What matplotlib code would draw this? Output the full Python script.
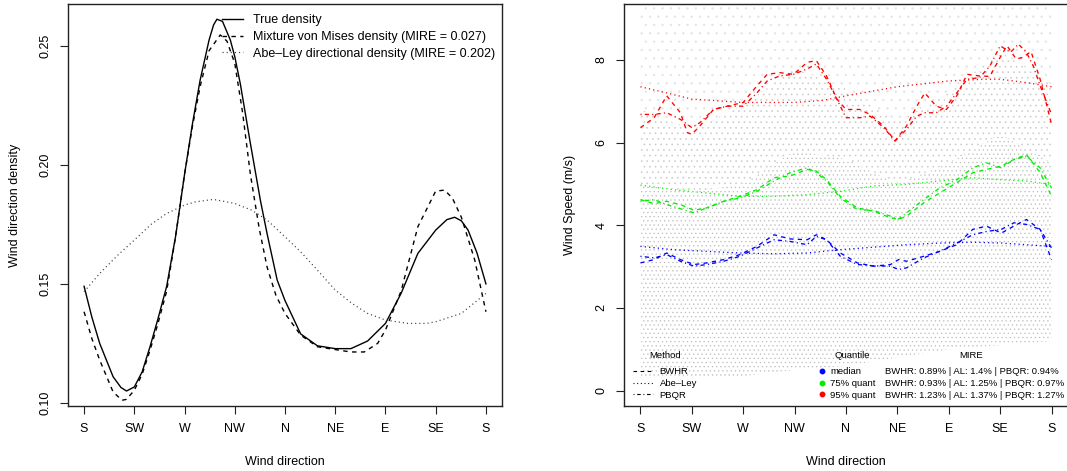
import matplotlib
matplotlib.use("Agg")
import matplotlib.pyplot as plt
from matplotlib.lines import Line2D

plt.rcParams['font.family'] = ['Liberation Sans', 'DejaVu Sans']
plt.rcParams['hatch.linewidth'] = 0.4

# ---------------- data ----------------
tick_dirs = [0, 45, 90, 135, 180, 225, 270, 315, 360]
tick_labels = ["S", "SW", "W", "NW", "N", "NE", "E", "SE", "S"]

# Left panel: densities
true_dir = [0, 7, 14, 26, 33, 38, 45, 52, 59, 66, 74, 82, 90, 97, 104, 112, 116, 119, 124, 131, 135, 140,
            149, 158, 164, 173, 180, 188, 194, 209, 225, 239, 254, 270, 284, 299, 315, 325, 332, 338, 344, 352, 360]
true_den = [0.149, 0.136, 0.125, 0.111, 0.1065, 0.105, 0.1067, 0.113, 0.1235, 0.135, 0.149, 0.17, 0.196, 0.217,
            0.2357, 0.2525, 0.2588, 0.2612, 0.2603, 0.2525, 0.2455, 0.234, 0.209, 0.185, 0.171, 0.1516, 0.143,
            0.135, 0.129, 0.124, 0.1228, 0.1228, 0.126, 0.1334, 0.146, 0.1628, 0.1726, 0.177, 0.178, 0.1765,
            0.1726, 0.163, 0.150]

mvm_dir = [0, 7, 14, 26, 34, 38, 45, 52, 59, 66, 74, 82, 90, 97, 104, 112, 122, 128, 135, 142, 149, 157, 164,
           172, 180, 194, 209, 225, 239, 251, 263, 270, 284, 299, 315, 323, 330, 338, 350, 360]
mvm_den = [0.1383, 0.127, 0.118, 0.1046, 0.1011, 0.1015, 0.1053, 0.112, 0.122, 0.133, 0.147, 0.17, 0.196, 0.216,
           0.233, 0.248, 0.2546, 0.252, 0.2427, 0.222, 0.196, 0.173, 0.157, 0.145, 0.1376, 0.1285, 0.1236,
           0.1224, 0.1214, 0.1214, 0.125, 0.1306, 0.147, 0.174, 0.189, 0.1894, 0.186, 0.178, 0.160, 0.1383]

al_dir = [0, 14, 30, 45, 60, 74, 90, 100, 116, 135, 150, 164, 180, 195, 209, 225, 240, 254, 270, 290, 307, 315,
          338, 360]
al_den = [0.1467, 0.1544, 0.162, 0.1684, 0.175, 0.1796, 0.1831, 0.1845, 0.1855, 0.1838, 0.181, 0.1768, 0.1698,
          0.163, 0.1558, 0.1474, 0.1418, 0.1376, 0.1348, 0.1334, 0.1334, 0.1341, 0.1376, 0.146]

# Right panel: quantile curves (wind speed, m/s)
red_bwhr_dir = [0, 12, 23, 35, 41, 45, 52, 64, 76, 90, 102, 111, 122, 134, 146, 154, 163, 172, 180, 192, 201,
                213, 223, 233, 242, 249, 259, 268, 277, 286, 297, 306, 315, 321, 329, 335, 342, 350, 360]
red_bwhr = [6.36, 6.6, 7.13, 6.72, 6.24, 6.2, 6.4, 6.8, 6.88, 6.97, 7.37, 7.65, 7.69, 7.65, 7.94, 7.98, 7.61,
            7.05, 6.8, 6.8, 6.68, 6.4, 6.04, 6.4, 6.88, 7.2, 6.88, 6.8, 7.13, 7.65, 7.61, 7.6, 8.06, 8.34, 8.02,
            8.06, 8.2, 7.53, 6.44]
red_pbqr_dir = [0, 12, 23, 35, 45, 52, 64, 76, 90, 102, 111, 122, 134, 146, 154, 163, 172, 180, 192, 201, 213,
                223, 233, 242, 249, 259, 268, 277, 286, 297, 306, 315, 324, 331, 338, 344, 350, 360]
red_pbqr = [6.68, 6.68, 6.72, 6.56, 6.36, 6.48, 6.8, 6.88, 6.88, 7.2, 7.49, 7.61, 7.65, 7.78, 7.9, 7.53, 7.05,
            6.6, 6.6, 6.64, 6.36, 6.04, 6.32, 6.64, 6.72, 6.72, 6.88, 7.2, 7.53, 7.57, 7.85, 8.34, 8.18, 8.38,
            8.18, 7.85, 7.37, 6.68]
red_al_dir = [0, 23, 45, 90, 135, 160, 180, 225, 270, 300, 315, 338, 360]
red_al = [7.35, 7.2, 7.05, 6.97, 6.97, 7.02, 7.13, 7.35, 7.49, 7.53, 7.53, 7.45, 7.35]

q_dir = [0, 12, 23, 35, 47, 58, 73, 87, 102, 117, 131, 146, 154, 163, 175, 190, 204, 219, 226, 233, 248, 262,
         277, 291, 303, 316, 327, 338, 350, 360]
green_bwhr = [4.62, 4.52, 4.58, 4.5, 4.36, 4.42, 4.58, 4.7, 4.86, 5.15, 5.19, 5.35, 5.31, 5.1, 4.7, 4.42, 4.34,
              4.18, 4.14, 4.22, 4.54, 4.78, 5.03, 5.27, 5.35, 5.43, 5.59, 5.71, 5.27, 4.7]
green_pbqr = [4.58, 4.62, 4.5, 4.4, 4.3, 4.42, 4.58, 4.66, 4.82, 5.07, 5.27, 5.39, 5.27, 5.07, 4.66, 4.38, 4.36,
              4.22, 4.15, 4.3, 4.62, 4.9, 5.1, 5.39, 5.51, 5.39, 5.59, 5.67, 5.39, 4.9]
blue_bwhr = [3.09, 3.17, 3.33, 3.17, 3.05, 3.09, 3.17, 3.29, 3.49, 3.77, 3.67, 3.65, 3.77, 3.65, 3.33, 3.09,
             3.01, 3.05, 3.17, 3.13, 3.25, 3.37, 3.53, 3.9, 3.98, 3.81, 3.98, 4.14, 3.9, 3.17]
blue_pbqr = [3.25, 3.21, 3.29, 3.13, 3.01, 3.05, 3.13, 3.25, 3.45, 3.65, 3.61, 3.53, 3.73, 3.65, 3.25, 3.05,
             3.02, 3.01, 2.93, 2.97, 3.21, 3.37, 3.57, 3.77, 3.85, 3.9, 4.06, 4.02, 3.9, 3.45]
al_q_dir = [0, 29, 58, 87, 117, 146, 175, 204, 233, 262, 291, 316, 338, 360]
green_al = [4.97, 4.86, 4.78, 4.7, 4.7, 4.74, 4.82, 4.95, 4.99, 5.07, 5.15, 5.1, 5.07, 4.99]
blue_al = [3.49, 3.41, 3.37, 3.33, 3.31, 3.33, 3.41, 3.47, 3.53, 3.57, 3.59, 3.57, 3.53, 3.49]

cloud_dir = [0, 45, 90, 135, 180, 225, 270, 315, 360]
cloud_bottom = [0.35, 0.35, 0.35, 0.5, 0.6, 0.8, 1.0, 1.1, 1.2]
cloud_dense_top = [5.0, 4.8, 5.0, 5.8, 5.6, 5.0, 5.5, 6.2, 5.5]
cloud_mid_top = [6.8, 6.3, 6.9, 7.8, 7.3, 6.5, 7.2, 8.2, 7.4]
cloud_top = [9.5, 9.5, 9.5, 9.5, 9.5, 9.5, 9.5, 9.5, 9.5]

quant_labels = ["median", "75% quant", "95% quant"]
quant_colors = ["#0000ff", "#00ee00", "#ff0000"]
mire_labels = ["BWHR: 0.89% | AL: 1.4% | PBQR: 0.94%",
               "BWHR: 0.93% | AL: 1.25% | PBQR: 0.97%",
               "BWHR: 1.23% | AL: 1.37% | PBQR: 1.27%"]
method_labels = ["BWHR", "Abe\u2013Ley", "PBQR"]

# ---------------- figure ----------------
W, H = 1067, 471
fig = plt.figure(figsize=(W / 100, H / 100), dpi=100)


def fx(px):
    return px / W


def fy(py):
    return 1 - py / H


FS = 9.0
ax1 = fig.add_axes([fx(68), fy(406), (502 - 68) / W, (406 - 4) / H])
ax2 = fig.add_axes([fx(624), fy(406), (1068 - 624) / W, (406 - 4) / H])

DASH = (0, (3.2, 3.2))
DOT = (0, (0.9, 2.4))
DOTDASH = (0, (0.9, 2.4, 3.2, 2.4))

# left panel
ax1.plot(true_dir, true_den, color="black", lw=1.0, label="True density")
ax1.plot(mvm_dir, mvm_den, color="black", lw=1.0, linestyle=DASH,
         label="Mixture von Mises density (MIRE = 0.027)")
ax1.plot(al_dir, al_den, color="#444444", lw=0.9, linestyle=DOT,
         label="Abe\u2013Ley directional density (MIRE = 0.202)")
ax1.set_xlim(-14.4, 374.4)
ax1.set_ylim(0.0987, 0.2676)
ax1.set_yticks([0.10, 0.15, 0.20, 0.25])
ax1.set_yticklabels(["0.10", "0.15", "0.20", "0.25"], rotation=90, va="center")
ax1.set_ylabel("Wind direction density", fontsize=FS)
ax1.yaxis.set_label_coords((15 - 68) / 434, 0.5)
ax1.legend(loc="upper left", bbox_to_anchor=((222 - 68) / 434, (406 - 14.5) / 402), frameon=False,
           fontsize=FS, handlelength=1.65, handletextpad=0.8, borderpad=0, borderaxespad=0,
           labelspacing=0.36)

# right panel: point cloud as stippled regions
ax2.fill_between(cloud_dir, cloud_bottom, cloud_dense_top, facecolor="none", edgecolor="#bcbcbc",
                 hatch="....", linewidth=0)
ax2.fill_between(cloud_dir, cloud_dense_top, cloud_mid_top, facecolor="none", edgecolor="#c8c8c8",
                 hatch="...", linewidth=0)
ax2.fill_between(cloud_dir, cloud_mid_top, cloud_top, facecolor="none", edgecolor="#e2e2e2",
                 hatch="..", linewidth=0)

LW = 0.95
ax2.plot(red_bwhr_dir, red_bwhr, color=quant_colors[2], lw=LW, linestyle=DASH)
ax2.plot(red_pbqr_dir, red_pbqr, color=quant_colors[2], lw=LW, linestyle=DOTDASH)
ax2.plot(red_al_dir, red_al, color=quant_colors[2], lw=LW, linestyle=DOT)
ax2.plot(q_dir, green_bwhr, color=quant_colors[1], lw=LW, linestyle=DASH)
ax2.plot(q_dir, green_pbqr, color=quant_colors[1], lw=LW, linestyle=DOTDASH)
ax2.plot(al_q_dir, green_al, color=quant_colors[1], lw=LW, linestyle=DOT)
ax2.plot(q_dir, blue_bwhr, color=quant_colors[0], lw=LW, linestyle=DASH)
ax2.plot(q_dir, blue_pbqr, color=quant_colors[0], lw=LW, linestyle=DOTDASH)
ax2.plot(al_q_dir, blue_al, color=quant_colors[0], lw=LW, linestyle=DOT)

ax2.set_xlim(-14.4, 374.4)
ax2.set_ylim(-0.37, 9.35)
ax2.set_yticks([0, 2, 4, 6, 8])
ax2.set_yticklabels(["0", "2", "4", "6", "8"], rotation=90, va="center")
ax2.set_ylabel("Wind Speed (m/s)", fontsize=FS)
ax2.yaxis.set_label_coords((570 - 624) / 444, 0.5)

for ax in (ax1, ax2):
    ax.set_xticks(tick_dirs)
    ax.set_xticklabels(tick_labels)
    ax.tick_params(axis="both", labelsize=FS, length=5.5, width=0.8, color="#222222", pad=6.5)
    ax.set_xlabel("Wind direction", fontsize=FS)
    ax.xaxis.set_label_coords(0.5, (406 - 462) / 402)
    ax.xaxis.label.set_va("center")
    ax.yaxis.label.set_va("center")
    for s in ax.spines.values():
        s.set_linewidth(1.0)
        s.set_color("#222222")

# right panel legends
LFS = 6.8
m_handles = [Line2D([], [], color="black", lw=0.8, linestyle=DASH),
             Line2D([], [], color="black", lw=0.8, linestyle=DOT),
             Line2D([], [], color="black", lw=0.8, linestyle=DOTDASH)]
leg_m = ax2.legend(m_handles, method_labels, loc="upper left",
                   bbox_to_anchor=((633 - 624) / 444, (406 - 367.5) / 402), frameon=False, fontsize=LFS,
                   handlelength=2.1, handletextpad=0.72, borderpad=0, borderaxespad=0, labelspacing=0.27)
ax2.add_artist(leg_m)
q_handles = [Line2D([], [], color=c, marker="o", markersize=3.2, linestyle="none") for c in quant_colors]
ax2.legend(q_handles, quant_labels, loc="upper left",
           bbox_to_anchor=((819 - 624) / 444, (406 - 367.5) / 402), frameon=False, fontsize=LFS,
           handlelength=0.6, handletextpad=0.6, borderpad=0, borderaxespad=0, labelspacing=0.27)

fig.text(fx(665), fy(356), "Method", fontsize=LFS, ha="center", va="center")
fig.text(fx(852), fy(356), "Quantile", fontsize=LFS, ha="center", va="center")
fig.text(fx(971), fy(356), "MIRE", fontsize=LFS, ha="center", va="center")
for i, t in enumerate(mire_labels):
    fig.text(fx(885), fy(372 + 11.5 * i), t, fontsize=LFS, ha="left", va="center")

fig.savefig("out.png", dpi=100)
